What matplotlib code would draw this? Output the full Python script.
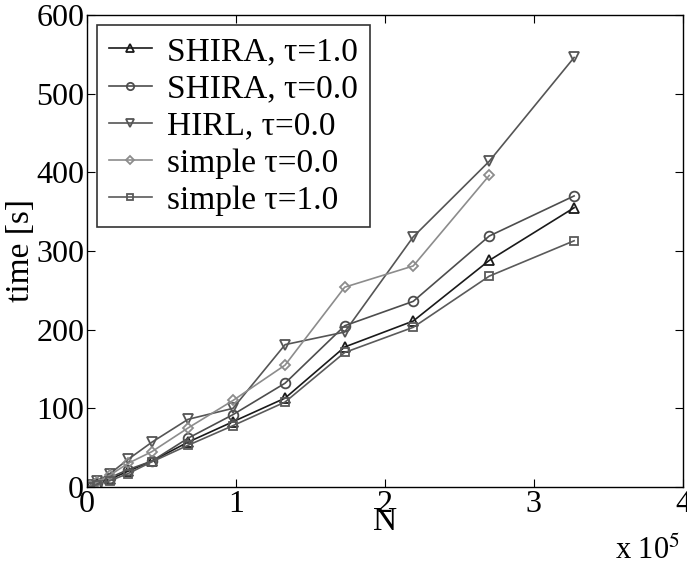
import numpy as np
import matplotlib
matplotlib.use('Agg')
import matplotlib.pyplot as plt

plt.rcParams['font.family'] = ['Liberation Serif', 'DejaVu Serif']
plt.rcParams['mathtext.fontset'] = 'stix'

# problem sizes (x 10^5)
n = [0.02, 0.067, 0.154, 0.275, 0.436, 0.678, 0.98, 1.33, 1.73, 2.19, 2.7, 3.27]

shira_1 = [1, 5, 10, 20, 33, 57, 83, 113, 178, 211, 288, 355]
shira_0 = [1, 5, 12, 22, 33, 62, 92, 132, 205, 236, 319, 370]
hirl_0 = [2, 7, 17, 35, 57, 86, 100, 181, 197, 318, 414, 546]
simple_0 = [1, 6, 15, 30, 45, 75, 110, 155, 254, 281, 396]
simple_1 = [0.5, 3, 8, 17, 32, 53, 78, 108, 171, 203, 268, 313]

labels = ['SHIRA, \u03c4=1.0', 'SHIRA, \u03c4=0.0', 'HIRL, \u03c4=0.0',
          'simple \u03c4=0.0', 'simple \u03c4=1.0']
series = [shira_1, shira_0, hirl_0, simple_0, simple_1]
markers = ['^', 'o', 'v', 'D', 's']
msizes = [7, 7, 7, 5.5, 5.5]
colors = ['#1a1a1a', '#4d4d4d', '#555555', '#8c8c8c', '#5a5a5a']

fig = plt.figure(figsize=(6.87, 5.68), dpi=100)
ax = fig.add_axes([0.1266, 0.1426, 0.8674, 0.831])

for ys, lab, m, ms, c in zip(series, labels, markers, msizes, colors):
    ax.plot(n[:len(ys)], ys, marker=m, markersize=ms, markerfacecolor='none',
            markeredgecolor=c, markeredgewidth=1.3, color=c, linewidth=1.2,
            label=lab)

ax.set_xlim(0, 4)
ax.set_ylim(0, 600)
ax.set_xticks([0, 1, 2, 3, 4])
ax.set_yticks([0, 100, 200, 300, 400, 500, 600])
ax.tick_params(direction='in', top=True, right=True, labelsize=23,
               length=6, width=0.8, pad=2)
for s in ax.spines.values():
    s.set_linewidth(1.0)

ax.set_xlabel('N', fontsize=24, labelpad=-9)
ax.set_ylabel('time [s]', fontsize=24, labelpad=0)
fig.text(0.895, 0.015, r'x 10$^5$', fontsize=22)

leg = ax.legend(loc='upper left', fontsize=24, frameon=True, fancybox=False,
                edgecolor='black', handlelength=1.3, labelspacing=0.2,
                borderaxespad=0.3, handletextpad=0.45, borderpad=0.35,
                markerscale=0.75)
leg.get_frame().set_linewidth(1.2)

fig.savefig('out.png', dpi=100)
